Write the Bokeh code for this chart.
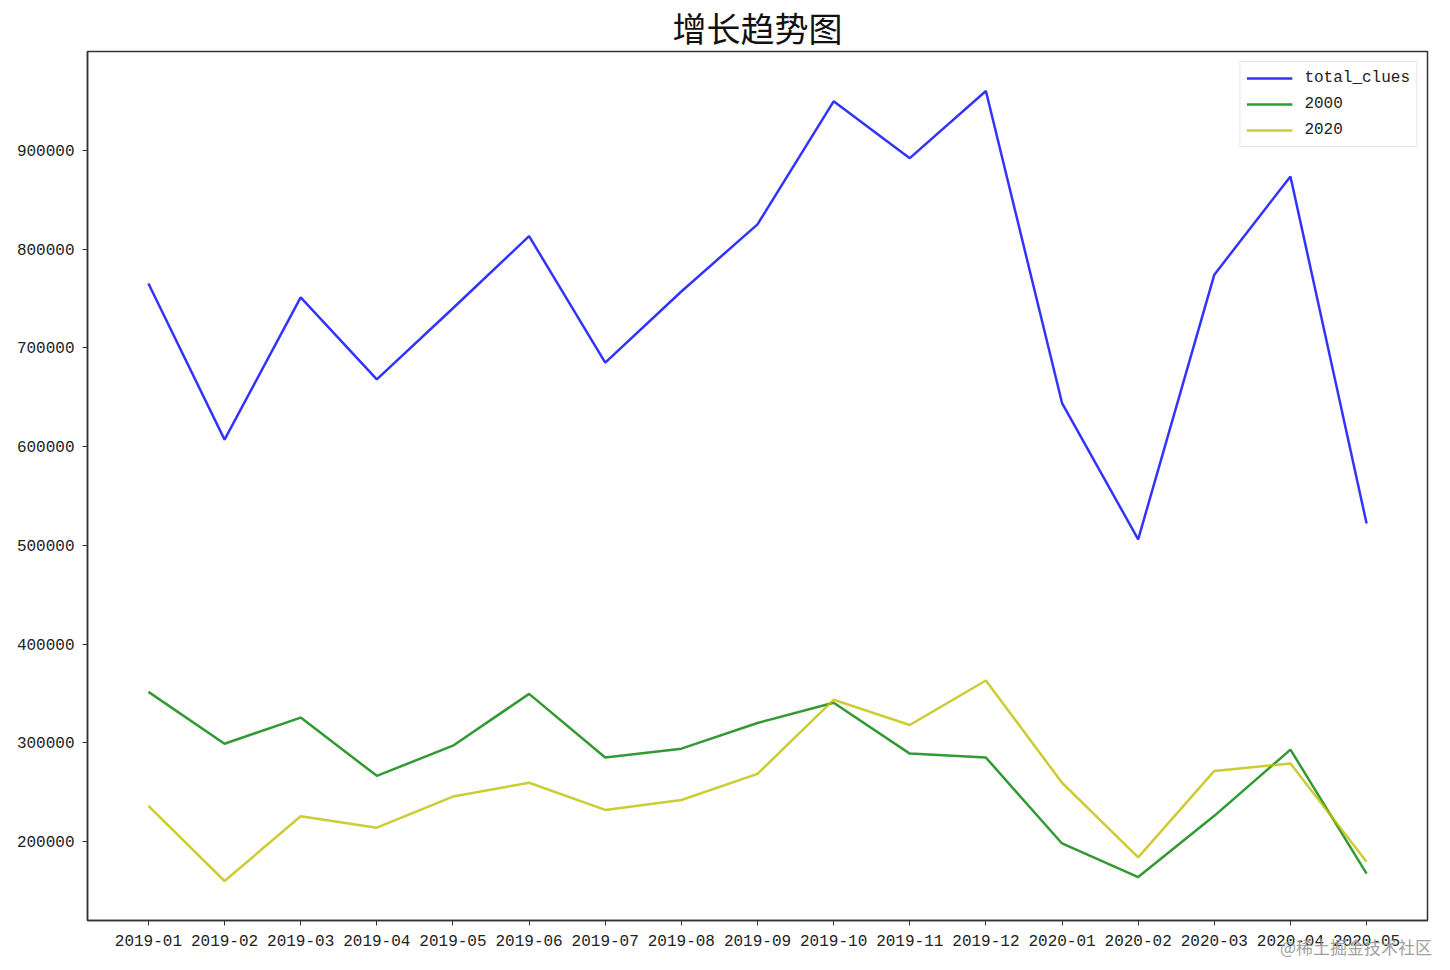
from bokeh.plotting import figure
from bokeh.models import Range1d, FixedTicker, BasicTickFormatter, Legend, LegendItem, Title, Div
from bokeh.layouts import column
from bokeh.embed import file_html
from bokeh.resources import INLINE

months = ["2019-01", "2019-02", "2019-03", "2019-04", "2019-05", "2019-06",
          "2019-07", "2019-08", "2019-09", "2019-10", "2019-11", "2019-12",
          "2020-01", "2020-02", "2020-03", "2020-04", "2020-05"]
total_clues = [765000, 607000, 751000, 668000, 740000, 813000, 685000, 757000, 825000,
               949500, 892000, 960000, 644000, 506000, 774000, 873500, 522000]
s2000 = [351500, 299000, 325500, 266500, 297000, 349500, 285000, 294000, 320000,
         340500, 289000, 285000, 198000, 164000, 226000, 293000, 167500]
s2020 = [236000, 160000, 225500, 214000, 245500, 259500, 232000, 242000, 268500,
         343500, 318000, 363000, 259500, 184000, 271500, 279000, 179500]
y_ticks = [200000, 300000, 400000, 500000, 600000, 700000, 800000, 900000]

x = list(range(len(months)))
TICK_FONT = "Liberation Mono"

W, H = 1434, 954
LEFT, RIGHT, TOP, BOTTOM = 87, 7, 50, 34

p = figure(width=W, height=H, output_backend="svg", toolbar_location=None,
           x_range=Range1d(-0.8, len(months) - 1 + 0.8),
           y_range=Range1d(120000, 1000000),
           min_border_left=LEFT, min_border_right=RIGHT,
           min_border_top=TOP, min_border_bottom=BOTTOM)

p.title = Title(text="增长趋势图", align="center", text_font="Noto Sans CJK SC",
                text_font_size="34px", text_font_style="normal", text_color="#111111",
                offset=0, standoff=0)

p.background_fill_color = "white"
p.border_fill_color = "white"
p.outline_line_color = "#333333"
p.outline_line_width = 1.5
p.xgrid.visible = False
p.ygrid.visible = False

for ax in (p.xaxis[0], p.yaxis[0]):
    ax.axis_line_color = "#333333"
    ax.axis_line_width = 1.5
    ax.major_tick_line_color = "#333333"
    ax.major_tick_out = 5
    ax.major_tick_in = 0
    ax.minor_tick_line_color = None
    ax.major_label_text_font = TICK_FONT
    ax.major_label_text_font_size = "16px"
    ax.major_label_text_color = "#222222"
p.xaxis.major_label_standoff = 9
p.yaxis.major_label_standoff = 8

p.xaxis.ticker = FixedTicker(ticks=x)
p.xaxis.major_label_overrides = {i: m for i, m in enumerate(months)}
p.yaxis.ticker = FixedTicker(ticks=y_ticks)
p.yaxis.formatter = BasicTickFormatter(use_scientific=False)

r1 = p.line(x, total_clues, line_color="blue", line_alpha=0.8, line_width=2.5)
r2 = p.line(x, s2000, line_color="green", line_alpha=0.8, line_width=2.5)
r3 = p.line(x, s2020, line_color="#bfbf00", line_alpha=0.8, line_width=2.5)

legend = Legend(items=[LegendItem(label="total_clues", renderers=[r1]),
                       LegendItem(label="2000", renderers=[r2]),
                       LegendItem(label="2020", renderers=[r3])],
                location="top_right", margin=10, padding=6, spacing=6,
                glyph_width=46, glyph_height=20, label_height=20, label_standoff=12,
                label_text_font=TICK_FONT, label_text_font_size="16px",
                label_text_color="#222222",
                border_line_color="#cccccc", border_line_width=1,
                background_fill_alpha=0.8)
p.add_layout(legend)

watermark = Div(text="@稀土掘金技术社区", width=W - 2, height=18,
                margin=(-16, 0, 0, 0),
                styles={"text-align": "right", "color": "#a0a0a0",
                        "font-family": "Noto Sans CJK SC", "font-size": "17px",
                        "line-height": "18px"})

layout = column(p, watermark, spacing=0)

open("out.html", "w").write(file_html(layout, INLINE))
